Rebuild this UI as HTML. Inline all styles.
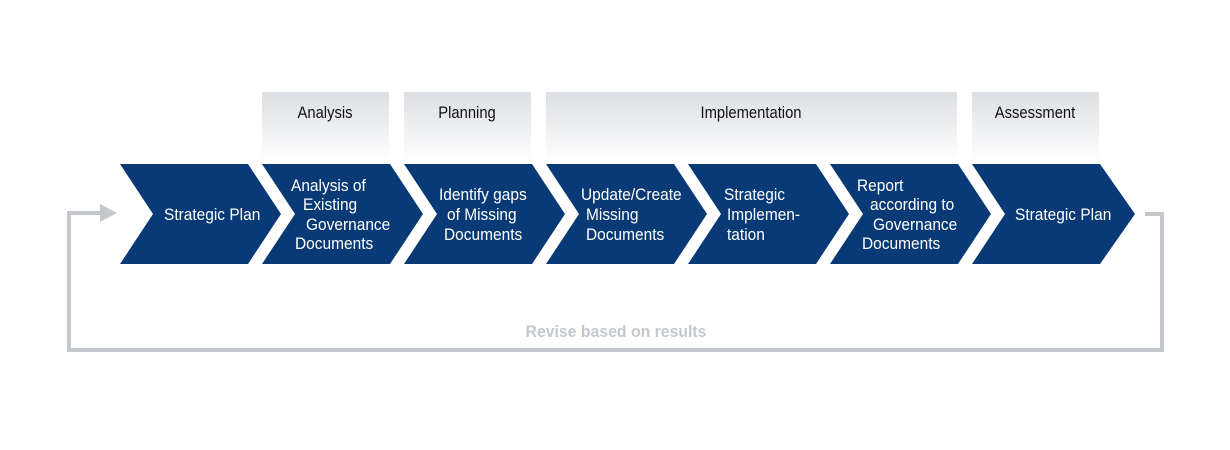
<!DOCTYPE html>
<html><head><meta charset="utf-8"><style>
html,body{margin:0;padding:0;background:#fff;width:1230px;height:450px;overflow:hidden}
</style></head><body>
<svg width="1230" height="450" viewBox="0 0 1230 450" xmlns="http://www.w3.org/2000/svg" font-family="'Liberation Sans',sans-serif">
<defs>
<linearGradient id="g" x1="0" y1="0" x2="0" y2="1">
<stop offset="0" stop-color="#dcdfe3"/><stop offset="1" stop-color="#ffffff"/>
</linearGradient>
</defs>
<rect x="262" y="92" width="127" height="70" fill="url(#g)"/>
<rect x="404" y="92" width="127" height="70" fill="url(#g)"/>
<rect x="546" y="92" width="411" height="70" fill="url(#g)"/>
<rect x="972" y="92" width="127" height="70" fill="url(#g)"/>
<g font-size="17" fill="#111" text-anchor="middle">
<text transform="translate(325,118) scale(0.87,1)">Analysis</text>
<text transform="translate(467,118) scale(0.87,1)">Planning</text>
<text transform="translate(751,118) scale(0.87,1)">Implementation</text>
<text transform="translate(1035,118) scale(0.87,1)">Assessment</text>
</g>
<g fill="#0a3a75">
<polygon points="120,164 248,164 281,214 248,264 120,264 153,214"/>
<polygon points="262,164 390,164 423,214 390,264 262,264 295,214"/>
<polygon points="404,164 532,164 565,214 532,264 404,264 437,214"/>
<polygon points="546,164 674,164 707,214 674,264 546,264 579,214"/>
<polygon points="688,164 816,164 849,214 816,264 688,264 721,214"/>
<polygon points="830,164 958,164 991,214 958,264 830,264 863,214"/>
<polygon points="972,164 1100,164 1135,214 1100,264 972,264 1005,214"/>
</g>
<g font-size="17" fill="#fff">
<text transform="translate(164,220) scale(0.91,1)">Strategic Plan</text>
<text transform="translate(291,191) scale(0.91,1)">Analysis of</text>
<text transform="translate(303,210) scale(0.91,1)">Existing</text>
<text transform="translate(306,230) scale(0.91,1)">Governance</text>
<text transform="translate(295,249) scale(0.91,1)">Documents</text>
<text transform="translate(439,200) scale(0.91,1)">Identify gaps</text>
<text transform="translate(447,220) scale(0.91,1)">of Missing</text>
<text transform="translate(444,240) scale(0.91,1)">Documents</text>
<text transform="translate(581,200) scale(0.91,1)">Update/Create</text>
<text transform="translate(586,220) scale(0.91,1)">Missing</text>
<text transform="translate(586,240) scale(0.91,1)">Documents</text>
<text transform="translate(724,200) scale(0.91,1)">Strategic</text>
<text transform="translate(727,220) scale(0.91,1)">Implemen-</text>
<text transform="translate(727,240) scale(0.91,1)">tation</text>
<text transform="translate(857,191) scale(0.91,1)">Report</text>
<text transform="translate(870,210) scale(0.91,1)">according to</text>
<text transform="translate(873,230) scale(0.91,1)">Governance</text>
<text transform="translate(862,249) scale(0.91,1)">Documents</text>
<text transform="translate(1015,220) scale(0.91,1)">Strategic Plan</text>
</g>
<polyline points="1145,214 1162,214 1162,350 69,350 69,213 102,213" fill="none" stroke="#c4c8cc" stroke-width="4"/>
<polygon points="100,204 117,213 100,222" fill="#c4c8cc"/>
<text transform="translate(616,337) scale(0.93,1)" font-size="17" font-weight="bold" fill="#c4c8cc" text-anchor="middle">Revise based on results</text>
</svg>
</body></html>
